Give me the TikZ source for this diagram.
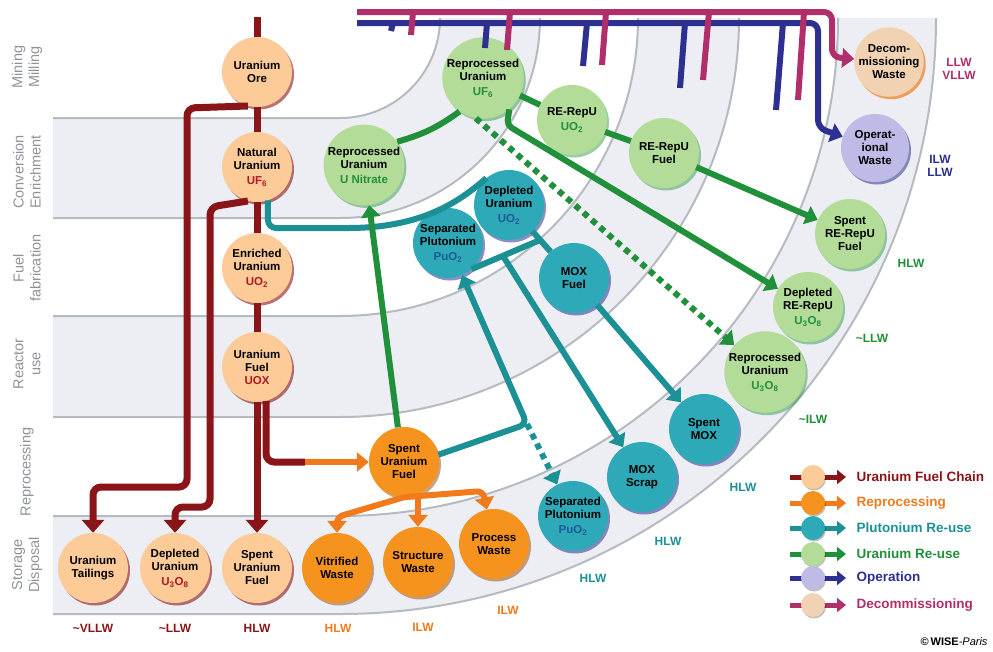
\documentclass[tikz,border=0pt]{standalone}
\usepackage{fontspec}
\setmainfont{Liberation Sans}
\usepackage{tikz}
\usetikzlibrary{arrows.meta,shadows}
\definecolor{chainred}{HTML}{8A1518}
\definecolor{chainform}{HTML}{B01A1E}
\definecolor{chainpeach}{HTML}{FCCB98}
\definecolor{reporange}{HTML}{F07A1C}
\definecolor{repamber}{HTML}{F6931F}
\definecolor{puteal}{HTML}{1B9196}
\definecolor{pucyan}{HTML}{2EA9B8}
\definecolor{puform}{HTML}{1D5A98}
\definecolor{ugreen}{HTML}{21903A}
\definecolor{umint}{HTML}{B3DC98}
\definecolor{opblue}{HTML}{2D2F91}
\definecolor{oplilac}{HTML}{BEBCE6}
\definecolor{decplum}{HTML}{B02F6B}
\definecolor{decsand}{HTML}{F1D3B3}
\definecolor{bandgray}{HTML}{ECEEF3}
\definecolor{bandedge}{HTML}{B6BAC1}
\definecolor{sidegray}{HTML}{8E939A}
\tikzset{
  stage/.style={circle, minimum size=70pt, inner sep=0pt, align=center,
    font=\bfseries\fontsize{11.5}{13}\selectfont},
  chainnode/.style={stage, fill=chainpeach,
    drop shadow={shadow xshift=2pt, shadow yshift=-2.5pt, fill=chainred, opacity=.6}},
  repnode/.style={stage, fill=repamber,
    drop shadow={shadow xshift=2pt, shadow yshift=-2.5pt, fill=reporange!60!black, opacity=.5}},
  punode/.style={stage, fill=pucyan,
    drop shadow={shadow xshift=2pt, shadow yshift=-2.5pt, fill=opblue, opacity=.55}},
  unode/.style={stage, fill=umint,
    drop shadow={shadow xshift=2pt, shadow yshift=-2.5pt, fill=ugreen, opacity=.45}},
  opnode/.style={stage, minimum size=68pt, fill=oplilac,
    drop shadow={shadow xshift=2pt, shadow yshift=-2.5pt, fill=opblue, opacity=.55}},
  decnode/.style={stage, minimum size=68pt, fill=decsand,
    drop shadow={shadow xshift=2pt, shadow yshift=-2.5pt, fill=reporange, opacity=.7}},
  chainline/.style={draw=chainred, line width=7pt},
  chainarrow/.style={chainline, -{Triangle[length=13pt,width=22pt]}},
  repline/.style={draw=reporange, line width=6pt},
  reparrow/.style={repline, -{Triangle[length=12pt,width=19pt]}},
  puline/.style={draw=puteal, line width=6pt},
  puarrow/.style={puline, -{Triangle[length=12pt,width=19pt]}},
  pudash/.style={puarrow, dash pattern=on 6pt off 5pt},
  uline/.style={draw=ugreen, line width=6pt},
  uarrow/.style={uline, -{Triangle[length=12pt,width=19pt]}},
  udash/.style={uarrow, dash pattern=on 6pt off 5pt},
  opline/.style={draw=opblue, line width=6pt},
  oparrow/.style={opline, -{Triangle[length=12pt,width=19pt]}},
  decline/.style={draw=decplum, line width=6pt},
  decarrow/.style={decline, -{Triangle[length=12pt,width=19pt]}},
  bandline/.style={draw=bandedge, line width=2pt},
  side/.style={rotate=90, align=center, text=sidegray, font=\fontsize{14.5}{17}\selectfont},
  waste/.style={align=center, font=\bfseries\fontsize{12}{13.5}\selectfont},
  legdot/.style={circle, minimum size=24pt, inner sep=0pt,
    drop shadow={shadow xshift=1pt, shadow yshift=-1.5pt, fill=black, opacity=.25}},
  legtext/.style={anchor=west, font=\bfseries\fontsize{13.5}{16}\selectfont},
}

\begin{document}
\begin{tikzpicture}[x=1pt, y=-1pt]
  \useasboundingbox (0,0) rectangle (993,651);

  % stage bands
  \fill[bandgray] (53,118) -- (340,118) arc[start angle=90, end angle=0, radius=100]
    -- (540,18) arc[start angle=0, end angle=90, radius=200] -- (53,218) -- cycle;
  \fill[bandgray] (53,316) -- (340,316) arc[start angle=90, end angle=0, radius=298]
    -- (739,18) arc[start angle=0, end angle=90, radius=399] -- (53,417) -- cycle;
  \fill[bandgray] (53,516) -- (340,516) arc[start angle=90, end angle=0, radius=498]
    -- (936,18) arc[start angle=0, end angle=90, radius=596] -- (53,614) -- cycle;
  \draw[bandline] (53,118) -- (340,118) arc[start angle=90, end angle=0, radius=100];
  \draw[bandline] (53,218) -- (340,218) arc[start angle=90, end angle=0, radius=200];
  \draw[bandline] (53,316) -- (340,316) arc[start angle=90, end angle=0, radius=298];
  \draw[bandline] (53,417) -- (340,417) arc[start angle=90, end angle=0, radius=399];
  \draw[bandline] (53,516) -- (340,516) arc[start angle=90, end angle=0, radius=498];
  \draw[bandline] (53,614) -- (340,614) arc[start angle=90, end angle=0, radius=596];

  \node[side] (lbmine) at (27,67) {Mining\\Milling};
  \node[side] (lbconv) at (27,172) {Conversion\\Enrichment};
  \node[side] (lbfab) at (27,268) {Fuel\\fabrication};
  \node[side] (lbreac) at (27,364) {Reactor\\use};
  \node[side] (lbrepr) at (27,472) {Reprocessing};
  \node[side] (lbstor) at (27,565) {Storage\\Disposal};

  % uranium fuel chain
  \node[chainnode] (ore) at (257,72) {Uranium\\Ore};
  \node[chainnode] (natu) at (257,167) {Natural\\Uranium\\[2pt]\textcolor{chainform}{UF\textsubscript{6}}};
  \node[chainnode] (enru) at (257,268) {Enriched\\Uranium\\[2pt]\textcolor{chainform}{UO\textsubscript{2}}};
  \node[chainnode] (uox) at (257,367) {Uranium\\Fuel\\\textcolor{chainform}{UOX}};
  \node[chainnode] (tail) at (93,568) {Uranium\\Tailings};
  \node[chainnode] (depu) at (175,568) {Depleted\\Uranium\\[2pt]\textcolor{chainform}{U\textsubscript{3}O\textsubscript{8}}};
  \node[chainnode] (sufb) at (257,568) {Spent\\Uranium\\Fuel};

  % reprocessing
  \node[repnode] (sufo) at (404,462) {Spent\\Uranium\\Fuel};
  \node[repnode] (vitw) at (337,568) {Vitrified\\Waste};
  \node[repnode] (strw) at (418,562) {Structure\\Waste};
  \node[repnode] (proc) at (494,544) {Process\\Waste};

  % plutonium re-use
  \node[punode] (depl) at (509,205) {Depleted\\Uranium\\[2pt]\textcolor{puform}{UO\textsubscript{2}}};
  \node[punode] (sepu) at (448,243) {Separated\\Plutonium\\[2pt]\textcolor{puform}{PuO\textsubscript{2}}};
  \node[punode] (mox) at (574,278) {MOX\\Fuel};
  \node[punode] (spmox) at (704,429) {Spent\\MOX};
  \node[punode] (moxs) at (642,477) {MOX\\Scrap};
  \node[punode] (sepb) at (573,516) {Separated\\Plutonium\\[2pt]\textcolor{puform}{PuO\textsubscript{2}}};

  % uranium re-use
  \node[unode] (ruf6) at (483,78) {Reprocessed\\Uranium\\[2pt]\textcolor{ugreen}{UF\textsubscript{6}}};
  \node[unode] (unit) at (364,165) {Reprocessed\\Uranium\\[2pt]\textcolor{ugreen}{U Nitrate}};
  \node[unode] (rrpu) at (572,120) {RE-RepU\\[2pt]\textcolor{ugreen}{UO\textsubscript{2}}};
  \node[unode] (rrpf) at (664,153) {RE-RepU\\Fuel};
  \node[unode] (srpf) at (850,234) {Spent\\RE-RepU\\Fuel};
  \node[unode] (drpu) at (808,307) {Depleted\\RE-RepU\\[2pt]\textcolor{ugreen}{U\textsubscript{3}O\textsubscript{8}}};
  \node[unode] (rpu3) at (765,372) {Reprocessed\\Uranium\\[2pt]\textcolor{ugreen}{U\textsubscript{3}O\textsubscript{8}}};

  % operation and decommissioning
  \node[decnode] (decw) at (889,62) {Decom-\\missioning\\Waste};
  \node[opnode] (opw) at (875,148) {Operat-\\ional\\Waste};

  % fuel chain links
  \coordinate (mine) at (257,17);
  \draw[chainline] (mine) -- (ore);
  \draw[chainline] (ore) -- (natu);
  \draw[chainline] (natu) -- (enru);
  \draw[chainline] (enru) -- (uox);
  \draw[chainarrow] (uox) -- (sufb);
  \draw[chainarrow, rounded corners=8pt] (ore.-105) -- (187,108) -- (187,487) -- (93,487) -- (tail);
  \draw[chainarrow, rounded corners=8pt] (natu.-105) -- (210,207) -- (210,507) -- (175,507) -- (depu);

  % reprocessing links
  \coordinate (uoxbend) at (305,462);
  \draw[chainline, rounded corners=8pt] (uox.-75) |- (uoxbend);
  \draw[reparrow] (uoxbend) -- (sufo);
  \coordinate (busl) at (337,517);
  \coordinate (busr) at (483,491);
  \coordinate (busm) at (418,496);
  \draw[reparrow, rounded corners=6pt] (sufo.south) -- (busl) -- (vitw);
  \draw[reparrow, rounded corners=6pt] (sufo.south) -- (busr) -- (proc);
  \draw[reparrow] (busm) -- (strw);

  % plutonium links
  \draw[puline, rounded corners=8pt] (natu.-72) -- (268,228) -- (340,228)
    .. controls (420,228) and (458,203) .. (depl.130);
  \coordinate (pujn) at (540,240);
  \coordinate (scrp) at (503,256);
  \coordinate (pubend) at (527,424);
  \draw[puline] (depl) -- (mox);
  \draw[puline] (sepu.-48) -- (pujn);
  \draw[puarrow] (scrp) -- (moxs);
  \draw[puarrow, rounded corners=8pt] (sufo.12) -- (pubend) -- (sepu);
  \draw[pudash] (pubend) -- (sepb);
  \draw[puarrow] (mox) -- (spmox);

  % uranium re-use links
  \coordinate (ubend) at (507,125);
  \draw[uarrow] (sufo.100) -- (unit);
  \draw[uline] (unit.35) to[bend right=10] (ruf6.-125);
  \draw[uline] (ruf6) -- (rrpu);
  \draw[uline] (rrpu) -- (rrpf);
  \draw[uarrow] (rrpf) -- (srpf);
  \draw[uarrow, rounded corners=5pt] (ruf6.-50) -- (ubend) -- (drpu);
  \draw[udash] (ruf6.-100) -- (rpu3);

  % operation feed
  \coordinate (opstart) at (357,23);
  \draw[opline] (393,23) -- (391,31);
  \draw[opline] (487,23) -- (485,48);
  \draw[opline] (587,23) -- (583,66);
  \draw[opline] (685,23) -- (680,88);
  \draw[opline] (783,23) -- (776,110);
  \draw[oparrow, rounded corners=8pt] (opstart) -- (818,23) -- (818,128) -- (opw);

  % decommissioning feed
  \coordinate (decstart) at (357,12);
  \draw[decline] (413,12) -- (411,35);
  \draw[decline] (510,12) -- (507,50);
  \draw[decline] (606,12) -- (602,65);
  \draw[decline] (709,12) -- (703,80);
  \draw[decline] (804,12) -- (798,100);
  \draw[decarrow, rounded corners=8pt] (decstart) -- (832,12) -- (832,57) -- (decw);

  % waste classes
  \node[waste, text=chainred] (wtail) at (93,628) {\textasciitilde VLLW};
  \node[waste, text=chainred] (wdepu) at (175,628) {\textasciitilde LLW};
  \node[waste, text=chainred] (wsufb) at (257,628) {HLW};
  \node[waste, text=reporange] (wvitw) at (338,628) {HLW};
  \node[waste, text=reporange] (wstrw) at (423,627) {ILW};
  \node[waste, text=reporange] (wproc) at (508,610) {ILW};
  \node[waste, text=puteal] (wsepb) at (593,578) {HLW};
  \node[waste, text=puteal] (wmoxs) at (668,541) {HLW};
  \node[waste, text=puteal] (wspmox) at (743,487) {HLW};
  \node[waste, text=ugreen] (wrpu3) at (813,419) {\textasciitilde ILW};
  \node[waste, text=ugreen] (wdrpu) at (872,338) {\textasciitilde LLW};
  \node[waste, text=ugreen] (wsrpf) at (911,263) {HLW};
  \node[waste, text=opblue] (wopw) at (940,166) {ILW\\LLW};
  \node[waste, text=decplum] (wdecw) at (959,69) {LLW\\VLLW};

  % legend
  \draw[chainline, line width=5pt, -{Triangle[length=9pt,width=14pt]}] (790,477) -- (846,477);
  \node[legdot, fill=chainpeach] (lgchain) at (813,477) {};
  \node[legtext, text=chainred] (lgchaint) at (853,477) {Uranium Fuel Chain};
  \draw[repline, line width=5pt, -{Triangle[length=9pt,width=14pt]}] (790,503) -- (846,503);
  \node[legdot, fill=repamber] (lgrep) at (813,503) {};
  \node[legtext, text=reporange] (lgrept) at (853,503) {Reprocessing};
  \draw[puline, line width=5pt, -{Triangle[length=9pt,width=14pt]}] (790,528) -- (846,528);
  \node[legdot, fill=pucyan] (lgpu) at (813,528) {};
  \node[legtext, text=puteal] (lgput) at (853,528) {Plutonium Re-use};
  \draw[uline, line width=5pt, -{Triangle[length=9pt,width=14pt]}] (790,554) -- (846,554);
  \node[legdot, fill=umint] (lgu) at (813,554) {};
  \node[legtext, text=ugreen] (lgut) at (853,554) {Uranium Re-use};
  \draw[opline, line width=5pt, -{Triangle[length=9pt,width=14pt]}] (790,578) -- (846,578);
  \node[legdot, fill=oplilac] (lgop) at (813,578) {};
  \node[legtext, text=opblue] (lgopt) at (853,578) {Operation};
  \draw[decline, line width=5pt, -{Triangle[length=9pt,width=14pt]}] (790,605) -- (846,605);
  \node[legdot, fill=decsand] (lgdec) at (813,605) {};
  \node[legtext, text=decplum] (lgdect) at (853,605) {Decommissioning};

  \node[anchor=east, font=\fontsize{11}{13}\selectfont] (credit) at (991,642)
    {\textbf{\textcopyright\,WISE}\textit{-Paris}};
\end{tikzpicture}
\end{document}
